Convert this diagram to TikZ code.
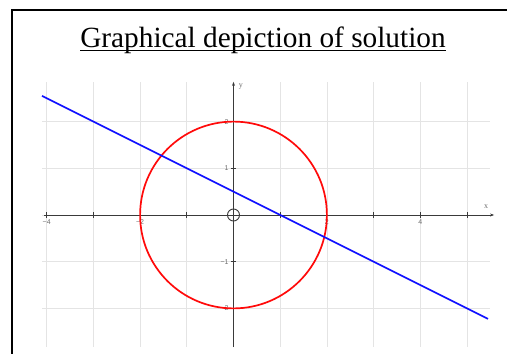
\documentclass[tikz,border=0pt]{standalone}
\usepackage{fontspec}
\setmainfont{Liberation Serif}
\setsansfont{Liberation Sans}
\usetikzlibrary{positioning, arrows.meta, calc}
\definecolor{gridgray}{HTML}{E4E4E4}
\definecolor{axisgray}{HTML}{3A3A3A}
\definecolor{labelgray}{HTML}{6E6E6E}
\definecolor{circred}{HTML}{FF0A0A}
\definecolor{lineblue}{HTML}{1010FF}

\begin{document}
\begin{tikzpicture}[x=1pt, y=1pt,
    gridline/.style={draw=gridgray, line width=0.8pt},
    axisline/.style={draw=axisgray, line width=0.9pt},
    ticklabel/.style={text=labelgray, font=\sffamily\fontsize{7}{8}\selectfont, inner sep=0.5pt}]
  \useasboundingbox (0,0) rectangle (507,-354);
  % frame and title
  \draw[line width=1.5pt] (12,-420) -- (12,-10) -- (580,-10);
  \node[font=\fontsize{29.3}{31}\selectfont, inner sep=0pt, anchor=base] (title) at (263,-47) {Graphical depiction of solution};
  \draw[line width=1.4pt] ($(title.base west)+(0,-3.5)$) -- ($(title.base east)+(0,-3.5)$);
  \begin{scope}[shift={(233.5,-215)}, x=46.7pt, y=46.7pt]
    % grid
    \foreach \gx in {-4,...,5}
      \draw[gridline] (\gx,-2.83) -- (\gx,2.85);
    \foreach \gy in {-2,...,2}
      \draw[gridline] (-4.1,\gy) -- (5.5,\gy);
    % axes
    \coordinate (xstart) at (-4.05,0);
    \coordinate (xend) at (5.58,0);
    \coordinate (ystart) at (0,-2.83);
    \coordinate (yend) at (0,2.85);
    \draw[axisline, -{Stealth[length=4pt, width=3pt]}] (xstart) -- (xend);
    \draw[axisline, -{Stealth[length=4pt, width=3pt]}] (ystart) -- (yend);
    \foreach \tx in {-4,-3,-2,-1,1,2,3,4,5}
      \draw[axisline] (\tx,-0.06) -- (\tx,0.06);
    \foreach \ty in {-2,-1,1,2}
      \draw[axisline] (-0.06,\ty) -- (0.06,\ty);
    \foreach \tx/\tl [count=\k] in {-4/−4, -2/−2, 2/2, 4/4}
      \node[ticklabel, below=1.5pt] (xlab\k) at (\tx,-0.06) {\tl};
    \foreach \ty/\tl [count=\k] in {2/2, 1/1, -1/−1, -2/−2}
      \node[ticklabel, left=1.5pt] (ylab\k) at (-0.06,\ty) {\tl};
    \node[text=labelgray, font=\fontsize{8}{9}\selectfont, inner sep=0pt] (xname) at (5.41,0.17) {x};
    \node[text=labelgray, font=\fontsize{8}{9}\selectfont, inner sep=0pt] (yname) at (0.16,2.76) {y};
    \draw[axisgray, line width=0.9pt] (0,0) circle (6pt);
    % curves
    \draw[circred, line width=1.7pt] (0,0) circle (2);
    \coordinate (lstart) at (-4.1,2.55);
    \coordinate (lend) at (5.45,-2.225);
    \draw[lineblue, line width=1.7pt] (lstart) -- (lend);
  \end{scope}
\end{tikzpicture}
\end{document}
